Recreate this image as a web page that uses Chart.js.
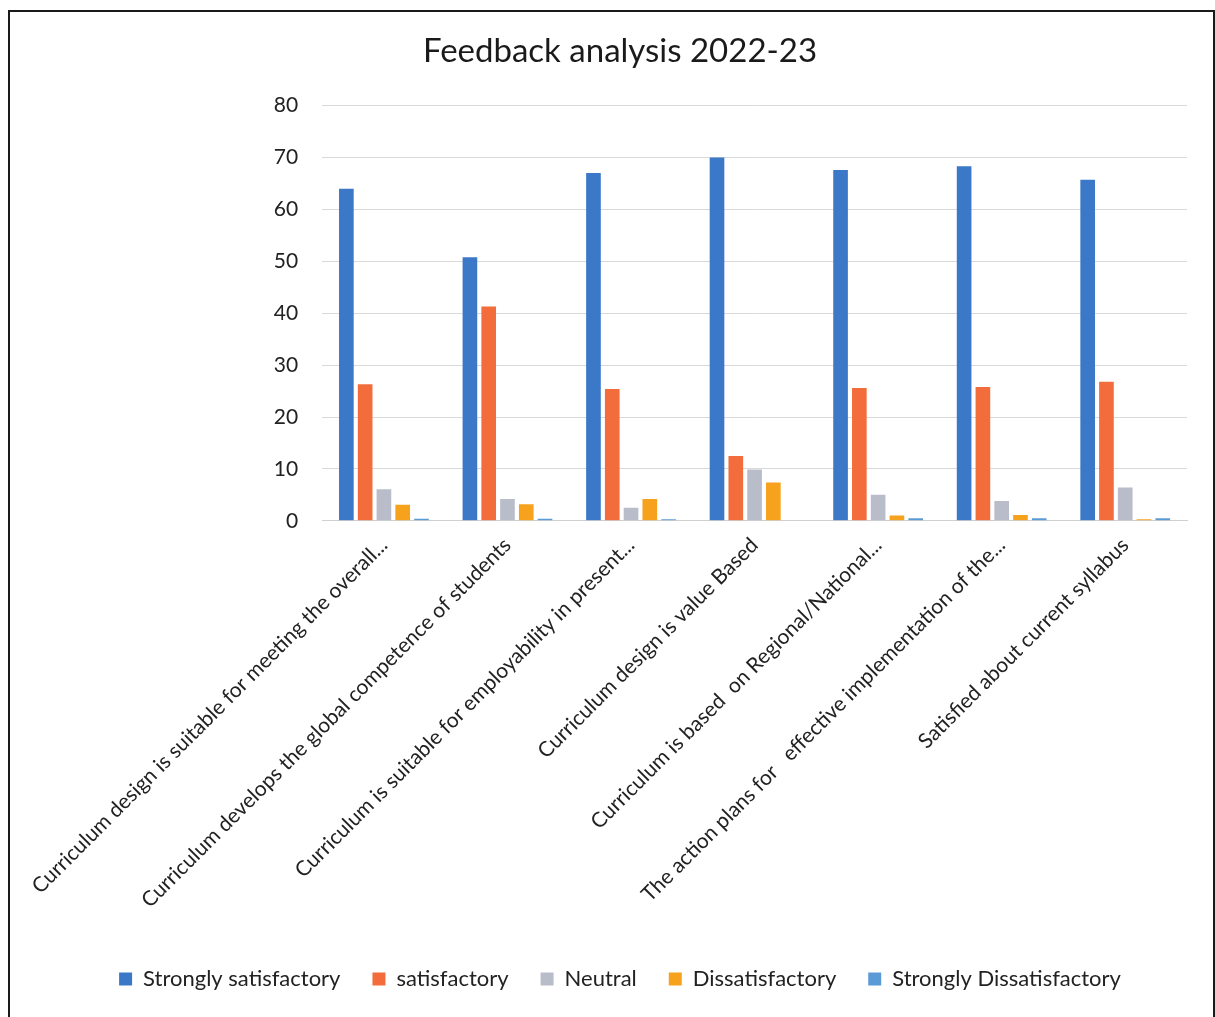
<!doctype html>
<html>
  <head>
    <title>Feedback analysis 2022-23</title>
    <script src="https://cdn.jsdelivr.net/npm/chart.js@4.4.1/dist/chart.umd.min.js"></script>
    <style>
      body{margin:0;background:#fff;}
      #kast{position:absolute;left:8px;top:10px;width:1203px;height:1010px;border:2px solid #1a1a1a;background:#fff;}
    </style>
  </head>
  <body>
    <div id="kast">
      <canvas id="joonis"></canvas>
    </div>
    <script>
      // küsimused (x-telje sildid)
      const kysimused = [
        'Curriculum design is suitable for meeting the overall...',
        'Curriculum develops the global competence of students',
        'Curriculum is suitable for employability in present...',
        'Curriculum design is value Based',
        'Curriculum is based  on Regional/National...',
        'The action plans for   effective implementation of the...',
        'Satisfied about current syllabus'
      ];
      const seeriad = ['Strongly satisfactory', 'satisfactory', 'Neutral', 'Dissatisfactory', 'Strongly Dissatisfactory'];
      const stronglySat = [64, 50.8, 67, 70, 67.6, 68.3, 65.7];
      const sat = [26.3, 41.3, 25.4, 12.5, 25.6, 25.8, 26.8];
      const neutral = [6.1, 4.2, 2.5, 9.9, 5, 3.8, 6.4];
      const dissat = [3.1, 3.2, 4.2, 7.4, 1, 1.1, 0.3];
      const stronglyDissat = [0.4, 0.4, 0.3, 0, 0.5, 0.5, 0.5];
      const yTicks = [0, 10, 20, 30, 40, 50, 60, 70, 80];

      const varvid = ['#3b78c8', '#f26d3b', '#b9bdc9', '#f7a21c', '#5b9bd5'];
      const andmed = [stronglySat, sat, neutral, dissat, stronglyDissat];

      Chart.defaults.font.family = 'Lato, "Open Sans", sans-serif';
      Chart.defaults.color = '#222';

      new Chart(document.getElementById('joonis'), {
        type: 'bar',
        data: {
          labels: kysimused,
          datasets: seeriad.map((nimi, i) => ({
            label: nimi,
            data: andmed[i],
            backgroundColor: varvid[i],
            barPercentage: 0.78,
            categoryPercentage: 0.76
          }))
        },
        options: {
          responsive: true,
          maintainAspectRatio: false,
          animation: false,
          layout: {padding: {left: 43, right: 26, top: 0, bottom: 22}},
          plugins: {
            title: {
              display: true,
              text: 'Feedback analysis 2022-23',
              font: {size: 33, weight: 'normal'},
              color: '#1a1a1a',
              padding: {top: 20, bottom: 34}
            },
            legend: {
              position: 'bottom',
              labels: {
                boxWidth: 13,
                boxHeight: 13,
                padding: 32,
                font: {size: 22},
                color: '#222'
              }
            },
            tooltip: {enabled: false}
          },
          scales: {
            x: {
              grid: {display: false},
              border: {color: '#d0d0d0'},
              afterFit: s => { s.height += 19; },
              ticks: {
                autoSkip: false,
                maxRotation: 45,
                minRotation: 45,
                font: {size: 21},
                color: '#222',
                padding: 4
              }
            },
            y: {
              min: 0,
              max: 80,
              afterBuildTicks: ax => { ax.ticks = yTicks.map(v => ({value: v})); },
              afterFit: s => { s.width = 262; },
              grid: {color: '#d9d9d9', tickLength: 0},
              border: {display: false},
              ticks: {font: {size: 21}, color: '#222', padding: 24}
            }
          }
        }
      });
    </script>
  </body>
</html>
